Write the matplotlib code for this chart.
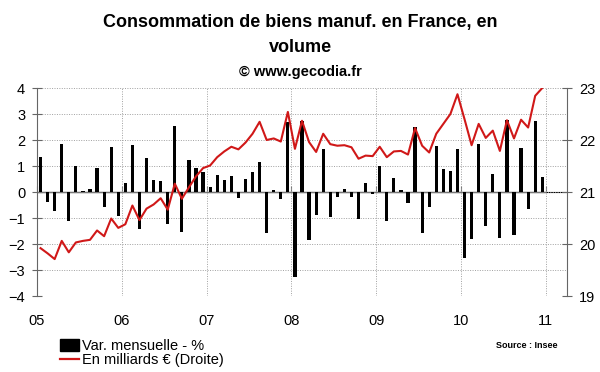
import numpy as np
import matplotlib
matplotlib.use("Agg")
from matplotlib import pyplot as plt
from matplotlib.patches import Patch
from matplotlib.lines import Line2D

plt.rcParams["font.family"] = ["Liberation Sans", "DejaVu Sans"]

# Monthly data, Jan 2005 - Dec 2010
year_labels = ["05", "06", "07", "08", "09", "10", "11"]

# Var. mensuelle - % (left axis)
var_mensuelle = [
    1.33, -0.40, -0.74, 1.85, -1.13, 1.01, 0.05, 0.13, 0.94, -0.59, 1.74, -0.92,
    0.35, 1.81, -1.41, 1.31, 0.47, 0.44, -1.23, 2.53, -1.53, 1.22, 0.92, 0.77,
    0.18, 0.67, 0.45, 0.62, -0.22, 0.50, 0.76, 1.14, -1.59, 0.09, -0.28, 2.68,
    -3.26, 2.72, -1.85, -0.90, 1.65, -0.95, -0.18, 0.10, -0.18, -1.05, 0.33, -0.09,
    1.01, -1.13, 0.55, 0.08, -0.44, 2.49, -1.59, -0.56, 1.76, 0.87, 0.82, 1.65,
    -2.54, -1.81, 1.85, -1.29, 0.71, -1.78, 2.78, -1.65, 1.68, -0.65, 2.72, 0.59,
]

# En milliards EUR (right axis)
milliards = [
    19.92, 19.82, 19.71, 20.06, 19.84, 20.03, 20.06, 20.08, 20.26, 20.15, 20.49, 20.31,
    20.38, 20.74, 20.46, 20.68, 20.76, 20.88, 20.66, 21.16, 20.87, 21.09, 21.30, 21.46,
    21.51, 21.67, 21.78, 21.87, 21.82, 21.95, 22.12, 22.35, 22.00, 22.03, 21.97, 22.54,
    21.83, 22.37, 21.96, 21.77, 22.12, 21.92, 21.89, 21.90, 21.86, 21.64, 21.70, 21.69,
    21.87, 21.67, 21.78, 21.79, 21.72, 22.23, 21.89, 21.76, 22.12, 22.31, 22.50, 22.88,
    22.40, 21.90, 22.31, 22.04, 22.18, 21.79, 22.38, 22.03, 22.39, 22.24, 22.85, 23.00,
]

AXIS_GREY = "#666666"
GRID_GREY = "#a0a0a0"
RED = "#d01818"

fig = plt.figure(figsize=(6, 3.72), dpi=100)
ax = fig.add_axes([37 / 600, 1 - 296 / 372, 530 / 600, 208 / 372])

x = np.arange(len(var_mensuelle))
year_pos = np.arange(len(year_labels)) * 12 - 0.5

ax.bar(x, var_mensuelle, width=0.45, color="black", zorder=3)
ax.set_xlim(-0.5, 74.5)
ax.set_ylim(-4, 4)
ax.set_yticks(range(-4, 5))
ax.set_xticks(year_pos, year_labels)
ax.tick_params(axis="x", length=0, pad=13, labelsize=10.5)
ax.tick_params(axis="y", direction="inout", length=7, color=AXIS_GREY,
               labelsize=10.5, pad=5)
ax.grid(True, color=GRID_GREY, linestyle=(0, (1, 1.5)), linewidth=0.7)
ax.set_axisbelow(True)
for s in ["top", "bottom", "right"]:
    ax.spines[s].set_visible(False)
ax.spines["left"].set_color(AXIS_GREY)

# zero line with year ticks
ax.hlines(0, year_pos[0], year_pos[-1], color="#777777", linewidth=1, zorder=2)
sec = ax.secondary_xaxis(0.5)
sec.set_xticks(year_pos, [""] * len(year_pos))
sec.tick_params(length=4, direction="out", color="#777777")
sec.spines["bottom"].set_visible(False)

ax2 = ax.twinx()
ax2.plot(x, milliards, color=RED, linewidth=1.5)
ax2.set_ylim(19, 23)
ax2.set_yticks(range(19, 24))
ax2.tick_params(axis="y", direction="inout", length=7, color=AXIS_GREY,
                labelsize=10.5, pad=5)
for s in ["top", "bottom", "left"]:
    ax2.spines[s].set_visible(False)
ax2.spines["right"].set_color(AXIS_GREY)

fig.text(0.5, 1 - 23 / 372, "Consommation de biens manuf. en France, en",
         ha="center", va="center", fontsize=13, fontweight="bold")
fig.text(0.5, 1 - 47 / 372, "volume",
         ha="center", va="center", fontsize=13, fontweight="bold")
fig.text(0.5, 1 - 72 / 372, "\u00a9 www.gecodia.fr",
         ha="center", va="center", fontsize=10.5, fontweight="bold")
fig.text(557 / 600, 1 - 346 / 372, "Source : Insee",
         ha="right", va="center", fontsize=6.5, fontweight="bold")

handles = [
    Patch(facecolor="black", edgecolor="black"),
    Line2D([], [], color=RED, linewidth=1.6),
]
fig.legend(handles, ["Var. mensuelle - %", "En milliards \u20ac (Droite)"],
           loc="upper left", bbox_to_anchor=(60 / 600, 1 - 339 / 372),
           frameon=False, fontsize=10.5, handlelength=1.3, handleheight=0.8,
           handletextpad=0.2, labelspacing=0.0, borderpad=0, borderaxespad=0)

fig.savefig("out.png", dpi=100)
